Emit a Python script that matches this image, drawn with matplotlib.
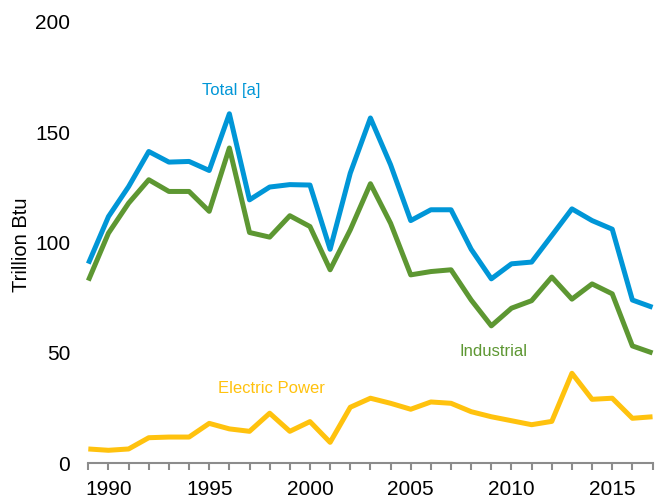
import matplotlib.pyplot as plt
import numpy as np

plt.rcParams['font.family'] = ['Liberation Sans', 'DejaVu Sans']

# data (trillion Btu)
years = np.arange(1989, 2018)
total = [90.5, 111.8, 125.4, 141.3, 136.5, 136.8, 132.7, 158.4, 119.4, 125.2,
         126.3, 126.1, 97.0, 131.5, 156.5, 135.3, 110.0, 114.9, 114.9, 97.0,
         83.6, 90.4, 91.2, 103.2, 115.3, 110.0, 106.1, 74.0, 70.7]
industrial = [82.8, 104.3, 117.9, 128.5, 123.2, 123.2, 114.2, 142.9, 104.6, 102.5,
              112.2, 107.3, 87.7, 105.8, 126.7, 108.8, 85.4, 86.9, 87.7, 74.0,
              62.3, 70.3, 73.7, 84.4, 74.4, 81.3, 76.8, 53.2, 50.0]
electric = [6.5, 5.9, 6.5, 11.6, 11.9, 11.9, 18.1, 15.6, 14.5, 22.7,
            14.5, 18.9, 9.5, 25.4, 29.5, 27.2, 24.5, 27.8, 27.2, 23.4,
            21.1, 19.3, 17.5, 19.0, 40.8, 29.0, 29.5, 20.4, 21.1]

c_total = "#0096d7"
c_ind = "#5d9732"
c_elec = "#ffc20e"

fig = plt.figure(figsize=(6.62, 5.03), dpi=100)
ax = fig.add_axes([0.1334, 0.0789, 0.8523, 0.8774])

ax.plot(years, total, color=c_total, lw=3.6, clip_on=False, solid_capstyle='butt')
ax.plot(years, industrial, color=c_ind, lw=3.6, clip_on=False, solid_capstyle='butt')
ax.plot(years, electric, color=c_elec, lw=3.6, clip_on=False, solid_capstyle='butt')

ax.text(1996.1, 169, "Total [a]", color=c_total, fontsize=12, ha='center', va='center')
ax.text(2009.1, 50.5, "Industrial", color=c_ind, fontsize=12, ha='center', va='center')
ax.text(1998.1, 34, "Electric Power", color=c_elec, fontsize=12, ha='center', va='center')

ax.set_xlim(1989, 2017)
ax.set_ylim(0, 200)
ax.set_yticks([0, 50, 100, 150, 200])
ax.set_xticks([1990, 1995, 2000, 2005, 2010, 2015])
ax.set_xticks(years, minor=True)

for s in ['top', 'right', 'left']:
    ax.spines[s].set_visible(False)
ax.spines['bottom'].set_color('#8c8c8c')
ax.spines['bottom'].set_linewidth(1.5)

ax.tick_params(axis='y', length=0, pad=13, labelsize=15)
ax.tick_params(axis='x', which='both', length=5, width=1.5, color='#8c8c8c',
               direction='out', pad=7, labelsize=15)

ax.set_ylabel("Trillion Btu", fontsize=14.5)
ax.yaxis.set_label_coords(-0.102, 0.495)

fig.savefig("out.png", dpi=100)
